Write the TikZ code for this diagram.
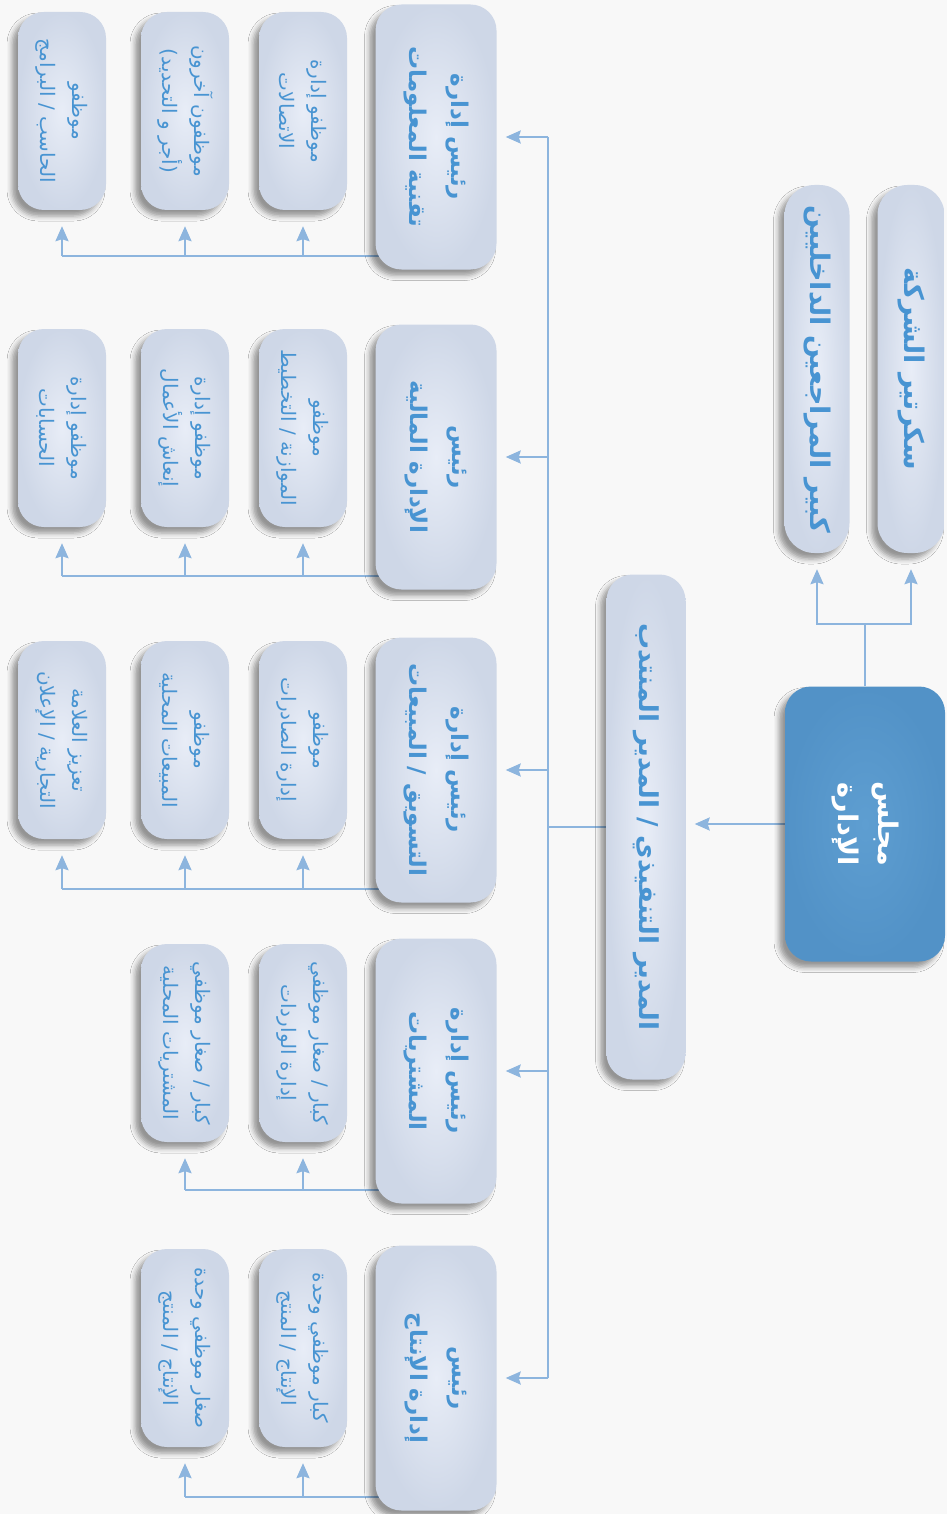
\documentclass[tikz,border=0pt]{standalone}
\usepackage{fontspec}
\newfontfamily\arabicfont[Script=Arabic]{DejaVu Sans}
\TeXXeTstate=1
\usetikzlibrary{arrows.meta,shadows.blur,backgrounds}
\newcommand{\rl}[1]{\beginR #1\endR}
\definecolor{txtblue}{RGB}{72,148,210}
\definecolor{linkblue}{RGB}{141,181,222}
\definecolor{boxlight}{RGB}{232,237,247}
\definecolor{boxedge}{RGB}{206,215,231}
\definecolor{boardlight}{RGB}{94,158,209}
\definecolor{boarddark}{RGB}{82,146,199}
\definecolor{pagebg}{RGB}{248,248,248}

\begin{document}
\begin{tikzpicture}[x=1pt,y=1pt,>={Stealth[length=15pt,width=13pt,inset=2pt]},
  box/.style={rounded corners=26pt, inner color=boxlight, outer color=boxedge, text=txtblue, align=center, rotate=-90, inner sep=0pt,
    blur shadow={shadow xshift=-6pt, shadow yshift=-6pt, shadow blur radius=5pt, shadow opacity=40}},
  emp/.style={box, minimum width=198pt, minimum height=88pt, font=\arabicfont\fontsize{20}{32}\selectfont},
  head/.style={box, minimum width=265pt, minimum height=121pt, font=\arabicfont\bfseries\fontsize{23}{42}\selectfont},
  side/.style={box, rounded corners=30pt, minimum width=368pt, font=\arabicfont\bfseries\fontsize{27}{34}\selectfont},
  chief/.style={box, minimum width=505pt, minimum height=79pt, font=\arabicfont\bfseries\fontsize{26}{34}\selectfont},
  board/.style={box, inner color=boardlight, outer color=boarddark, text=white, minimum width=275pt, minimum height=160pt,
    font=\arabicfont\bfseries\fontsize{27}{40}\selectfont},
  line/.style={draw=linkblue, line width=2.2pt},
  arr/.style={line, ->, shorten >=9pt},
  uparr/.style={line, ->, shorten >=16pt}]
\useasboundingbox (0,0) rectangle (947,-1514);

\node[board] (board) at (865,-824) {\rl{مجلس}\\\rl{الإدارة}};
\node[side, minimum height=67pt] (secretary) at (911,-369) {\rl{سكرتير الشركة}};
\node[side, minimum height=65pt] (auditor) at (817,-369) {\rl{كبير المراجعين الداخليين}};
\node[chief] (ceo) at (646,-827) {\rl{المدير التنفيذي / المدير المنتدب}};

\node[head] (ithead) at (436,-137) {\rl{رئيس إدارة}\\\rl{تقنية المعلومات}};
\node[head] (finhead) at (436,-457) {\rl{رئيس}\\\rl{الإدارة المالية}};
\node[head] (mkthead) at (436,-770) {\rl{رئيس إدارة}\\\rl{التسويق / المبيعات}};
\node[head] (purhead) at (436,-1071) {\rl{رئيس إدارة}\\\rl{المشتريات}};
\node[head] (prdhead) at (436,-1378) {\rl{رئيس}\\\rl{إدارة الإنتاج}};

\node[emp] (itc) at (303,-111) {\rl{موظفو إدارة}\\\rl{الاتصالات}};
\node[emp] (itb) at (185,-111) {\rl{موظفون آخرون}\\\rl{(أجر و التحديد)}};
\node[emp] (ita) at (62,-111) {\rl{موظفو}\\\rl{الحاسب / البرامج}};

\node[emp] (finc) at (303,-428) {\rl{موظفو}\\\rl{الموازنة / التخطيط}};
\node[emp] (finb) at (185,-428) {\rl{موظفو إدارة}\\\rl{إنعاش الأعمال}};
\node[emp] (fina) at (62,-428) {\rl{موظفو إدارة}\\\rl{الحسابات}};

\node[emp] (mktc) at (303,-740) {\rl{موظفو}\\\rl{إدارة الصادرات}};
\node[emp] (mktb) at (185,-740) {\rl{موظفو}\\\rl{المبيعات المحلية}};
\node[emp] (mkta) at (62,-740) {\rl{تعزيز العلامة}\\\rl{التجارية / الإعلان}};

\node[emp] (purc) at (303,-1043) {\rl{كبار / صغار موظفي}\\\rl{إدارة الواردات}};
\node[emp] (purb) at (185,-1043) {\rl{كبار / صغار موظفي}\\\rl{المشتريات المحلية}};

\node[emp] (prdc) at (303,-1348) {\rl{كبار موظفي وحدة}\\\rl{الإنتاج / المنتج}};
\node[emp] (prdb) at (185,-1348) {\rl{صغار موظفي وحدة}\\\rl{الإنتاج / المنتج}};

\coordinate (split) at ([yshift=62pt]board.west);
\coordinate (bus) at ([xshift=-58pt]ceo.south);
\coordinate (itbus) at ([yshift=14pt]ithead.south east);
\coordinate (finbus) at ([yshift=14pt]finhead.south east);
\coordinate (mktbus) at ([yshift=14pt]mkthead.south east);
\coordinate (purbus) at ([yshift=14pt]purhead.south east);
\coordinate (prdbus) at ([yshift=14pt]prdhead.south east);

\begin{pgfonlayer}{background}
\fill[pagebg] (0,0) rectangle (947,-1514);
\draw[line] (board.west) -- (split);
\draw[uparr] (split) -| (secretary);
\draw[uparr] (split) -| (auditor);
\draw[arr] (board.south) -- (board.south -| ceo.north);
\draw[line] (ceo.south) -- (bus);
\draw[line] (bus |- ithead) -- (bus |- prdhead);
\foreach \h in {ithead,finhead,mkthead,purhead,prdhead}
  \draw[arr] (bus |- \h) -- (\h);
\draw[line] ([xshift=10pt]itbus) -- (itbus -| ita);
\foreach \e in {ita,itb,itc}
  \draw[uparr] (itbus -| \e) -- (\e);
\draw[line] ([xshift=10pt]finbus) -- (finbus -| fina);
\foreach \e in {fina,finb,finc}
  \draw[uparr] (finbus -| \e) -- (\e);
\draw[line] ([xshift=10pt]mktbus) -- (mktbus -| mkta);
\foreach \e in {mkta,mktb,mktc}
  \draw[uparr] (mktbus -| \e) -- (\e);
\draw[line] ([xshift=10pt]purbus) -- (purbus -| purb);
\foreach \e in {purb,purc}
  \draw[uparr] (purbus -| \e) -- (\e);
\draw[line] ([xshift=10pt]prdbus) -- (prdbus -| prdb);
\foreach \e in {prdb,prdc}
  \draw[uparr] (prdbus -| \e) -- (\e);
\end{pgfonlayer}
\end{tikzpicture}
\end{document}
